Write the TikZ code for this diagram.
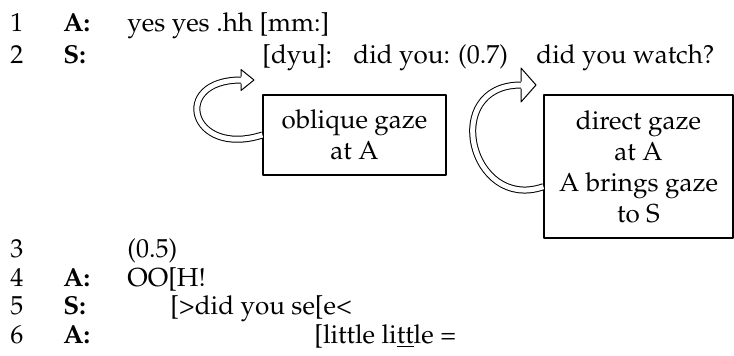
\documentclass[tikz,border=0pt]{standalone}
\usepackage[T1]{fontenc}
\usepackage{mathpazo}
\begin{document}
\begin{tikzpicture}[x=0.5pt,y=-0.5pt,line join=round,
	every node/.style={font=\fontsize{13}{15.5}\selectfont},
	tr/.style={anchor=base west,inner sep=0pt},
	gazebox/.style={draw,line width=0.6pt,align=center,inner sep=0pt},
	shaft/.style={line width=0.5pt,double=white,double distance=2.5pt}]
	\def\colnum{10} \def\colspk{63} \def\coltxt{127} % columns
	\useasboundingbox (0,0) rectangle (734,355);
	% line numbers and speakers
	\foreach \n/\y/\s in {1/31/A:,2/63/S:,3/257/{},4/286/A:,5/314/S:,6/343/A:}{
		\node[tr] (num\n) at (\colnum,\y) {\n};
		\node[tr] (spk\n) at (\colspk,\y) {\textbf{\s}};
	}
	\node[tr] (t1) at (\coltxt,31) {yes yes .hh [mm:]};
	\node[tr] (t2a) at (262,63) {[dyu]:};
	\node[tr] (t2b) at (353,63) {did you: (0.7)};
	\node[tr] (t2c) at (536,63) {did you watch?};
	\node[tr] (t3) at (\coltxt,257) {(0.5)};
	\node[tr] (t4) at (\coltxt,286) {OO[H!};
	\node[tr] (t5) at (170,314) {[>did you se[e<};
	\node[tr] (t6) at (314,343) {[little li\underline{tt}le =};
	% gaze boxes
	\node[gazebox,minimum width=91.5pt,minimum height=40pt] (obl) at (354.5,135) {oblique gaze\\at A};
	\node[gazebox,minimum width=94.5pt,minimum height=71.5pt] (dir) at (638.5,166.5) {direct gaze\\at A\\A brings gaze\\to S};
	\coordinate (hA) at (241,80);
	\coordinate (hB) at (521,85);
	% hollow arrows
	\draw[shaft] (obl.west) .. controls (190,158) and (170,80) .. (hA);
	\fill[white] ([shift={(0,-3.5)}]hA) -- ([shift={(0,-10.5)}]hA) -- ([shift={(13,0)}]hA) -- ([shift={(0,10.5)}]hA) -- ([shift={(0,3.5)}]hA) -- cycle;
	\draw[line width=0.5pt] ([shift={(0,-3.5)}]hA) -- ([shift={(0,-10.5)}]hA) -- ([shift={(13,0)}]hA) -- ([shift={(0,10.5)}]hA) -- ([shift={(0,3.5)}]hA);
	\draw[shaft] (dir.192) .. controls (470,212) and (440,85) .. (hB);
	\fill[white] ([shift={(0,-3.5)}]hB) -- ([shift={(0,-17)}]hB) -- ([shift={(15,0)}]hB) -- ([shift={(0,17)}]hB) -- ([shift={(0,3.5)}]hB) -- cycle;
	\draw[line width=0.5pt] ([shift={(0,-3.5)}]hB) -- ([shift={(0,-17)}]hB) -- ([shift={(15,0)}]hB) -- ([shift={(0,17)}]hB) -- ([shift={(0,3.5)}]hB);
\end{tikzpicture}
\end{document}
